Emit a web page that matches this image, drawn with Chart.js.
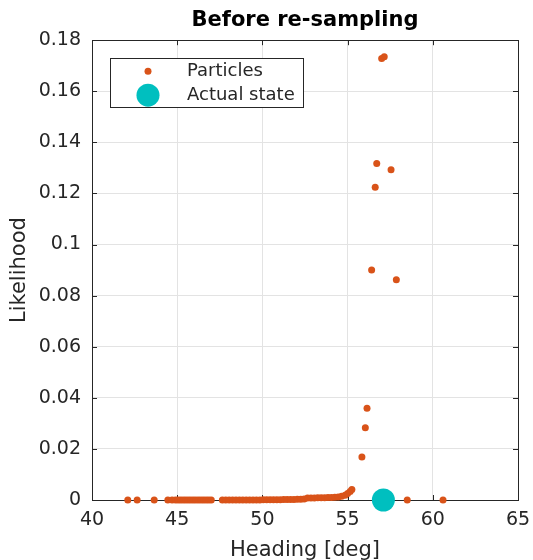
<!DOCTYPE html>
<html>
<head>
<meta charset="utf-8">
<script src="https://cdn.jsdelivr.net/npm/chart.js@4.4.1/dist/chart.umd.min.js"></script>
<style>
  html, body { margin: 0; padding: 0; background: #fff; }
  #wrap { width: 533px; height: 560px; }
</style>
</head>
<body>
<div id="wrap"><canvas id="chart" width="533" height="560"></canvas></div>
<script>
// particle headings [deg] and likelihoods
var particleHeading = [
  42.1, 42.65, 43.65, 44.45, 44.7, 44.9,
  45.05, 45.2, 45.35, 45.5, 45.65, 45.8, 45.95, 46.1, 46.25, 46.4, 46.55, 46.7, 46.85, 47.0,
  47.65, 47.85, 48.05, 48.25, 48.45, 48.65, 48.85, 49.05, 49.25, 49.45, 49.65, 49.85,
  50.05, 50.25, 50.45, 50.65, 50.85, 51.05, 51.25, 51.45, 51.65, 51.85, 52.05, 52.25, 52.45,
  52.65, 52.85, 53.05, 53.25, 53.45, 53.65, 53.85, 54.05, 54.25, 54.45,
  54.65, 54.85, 55.0, 55.15, 55.25,
  55.84, 56.04, 56.14, 56.41, 56.62, 56.71, 57.55, 57.86, 57.0, 57.15,
  58.5, 60.6
];
var particleLikelihood = [
  0, 0, 0, 0, 0, 0,
  0, 0, 0, 0, 0, 0, 0, 0, 0, 0, 0, 0, 0, 0,
  0, 0, 0, 0, 0, 0, 0, 0, 0, 0, 0, 0,
  0.0001, 0.0001, 0.0001, 0.0001, 0.0001, 0.0001, 0.0002, 0.0002, 0.0002, 0.0002, 0.0003, 0.0003, 0.0004,
  0.0008, 0.0008, 0.0008, 0.0009, 0.0009, 0.0009, 0.001, 0.001, 0.0011, 0.0012,
  0.0015, 0.0019, 0.0025, 0.0033, 0.0041,
  0.0168, 0.0283, 0.0359, 0.090, 0.1224, 0.1317, 0.1293, 0.0862, 0.1728, 0.1735,
  0, 0
];
var actualHeading = [57.1];
var actualLikelihood = [0];

var xTicks = [40, 45, 50, 55, 60, 65];
var yTicks = [0, 0.02, 0.04, 0.06, 0.08, 0.1, 0.12, 0.14, 0.16, 0.18];

var orange = '#D95319';
var cyan = '#00BFBF';
var axisColor = '#262626';

function toPoints(xs, ys) {
  var out = [];
  for (var i = 0; i < xs.length; i++) out.push({x: xs[i], y: ys[i]});
  return out;
}

// box around the axes with inward ticks, drawn under the markers
var boxPlugin = {
  id: 'box',
  beforeDatasetsDraw: function (chart) {
    var ctx = chart.ctx, a = chart.chartArea;
    var xs = chart.scales.x, ys = chart.scales.y;
    ctx.save();
    ctx.strokeStyle = axisColor;
    ctx.lineWidth = 1;
    ctx.strokeRect(Math.round(a.left) + 0.5, Math.round(a.top) + 0.5,
      Math.round(a.right - a.left), Math.round(a.bottom - a.top));
    ctx.beginPath();
    xTicks.forEach(function (t) {
      var px = Math.round(xs.getPixelForValue(t)) + 0.5;
      ctx.moveTo(px, a.bottom); ctx.lineTo(px, a.bottom - 5);
      ctx.moveTo(px, a.top); ctx.lineTo(px, a.top + 5);
    });
    yTicks.forEach(function (t) {
      var py = Math.round(ys.getPixelForValue(t)) + 0.5;
      ctx.moveTo(a.left, py); ctx.lineTo(a.left + 5, py);
      ctx.moveTo(a.right, py); ctx.lineTo(a.right - 5, py);
    });
    ctx.stroke();
    ctx.restore();
  }
};

// MATLAB style legend box in the upper left
var legendPlugin = {
  id: 'boxLegend',
  afterDraw: function (chart) {
    var ctx = chart.ctx, a = chart.chartArea;
    var left = a.left + 18, top = a.top + 18, w = 193, h = 49;
    ctx.save();
    ctx.fillStyle = '#fff';
    ctx.fillRect(left, top, w, h);
    ctx.strokeStyle = axisColor;
    ctx.lineWidth = 1;
    ctx.strokeRect(Math.round(left) + 0.5, Math.round(top) + 0.5, w, h);
    chart.data.datasets.forEach(function (ds, i) {
      var cy = top + 13 + i * 24;
      ctx.beginPath();
      ctx.fillStyle = ds.backgroundColor;
      ctx.arc(left + 38, cy, ds.pointRadius, 0, Math.PI * 2);
      ctx.fill();
      ctx.fillStyle = axisColor;
      ctx.font = '18px "DejaVu Sans"';
      ctx.textBaseline = 'middle';
      ctx.fillText(ds.label, left + 77, cy);
    });
    ctx.restore();
  }
};

var ctx = document.getElementById('chart');
var chart = new Chart(ctx, {
  type: 'scatter',
  data: {
    datasets: [{
      label: 'Particles',
      data: toPoints(particleHeading, particleLikelihood),
      backgroundColor: orange,
      borderWidth: 0,
      pointRadius: 3.5,
      clip: false
    }, {
      label: 'Actual state',
      data: toPoints(actualHeading, actualLikelihood),
      backgroundColor: cyan,
      borderWidth: 0,
      pointRadius: 11.5,
      clip: false
    }]
  },
  options: {
    responsive: false,
    animation: false,
    layout: { padding: { left: 0, right: 15, top: 0, bottom: 0 } },
    plugins: {
      legend: { display: false },
      tooltip: { enabled: false },
      title: {
        display: true,
        fullSize: false,
        text: 'Before re-sampling',
        color: '#000',
        font: { family: 'DejaVu Sans', size: 21, weight: 'bold' },
        padding: { top: 8, bottom: 7 }
      }
    },
    scales: {
      x: {
        type: 'linear',
        min: 40,
        max: 65,
        afterBuildTicks: function (s) { s.ticks = xTicks.map(function (v) { return {value: v}; }); },
        afterFit: function (s) { s.height = 60; s.paddingLeft = 0; s.paddingRight = 0; },
        grid: { color: '#e3e3e3', drawTicks: false },
        border: { display: false },
        ticks: {
          color: axisColor,
          padding: 9,
          font: { family: 'DejaVu Sans', size: 19 },
          callback: function (v) { return String(v); }
        },
        title: {
          display: true,
          text: 'Heading [deg]',
          color: axisColor,
          font: { family: 'DejaVu Sans', size: 21 },
          padding: { top: 0, bottom: -3 }
        }
      },
      y: {
        type: 'linear',
        min: 0,
        max: 0.18,
        afterBuildTicks: function (s) { s.ticks = yTicks.map(function (v) { return {value: v}; }); },
        afterFit: function (s) { s.width = 92; s.paddingTop = 0; s.paddingBottom = 0; },
        grid: { color: '#e3e3e3', drawTicks: false },
        border: { display: false },
        ticks: {
          color: axisColor,
          padding: 11,
          font: { family: 'DejaVu Sans', size: 19 },
          callback: function (v) { return String(Number(v.toFixed(2))); }
        },
        title: {
          display: true,
          text: 'Likelihood',
          color: axisColor,
          font: { family: 'DejaVu Sans', size: 21 },
          padding: { top: 7, bottom: 0 }
        }
      }
    }
  },
  plugins: [boxPlugin, legendPlugin]
});
</script>
</body>
</html>
